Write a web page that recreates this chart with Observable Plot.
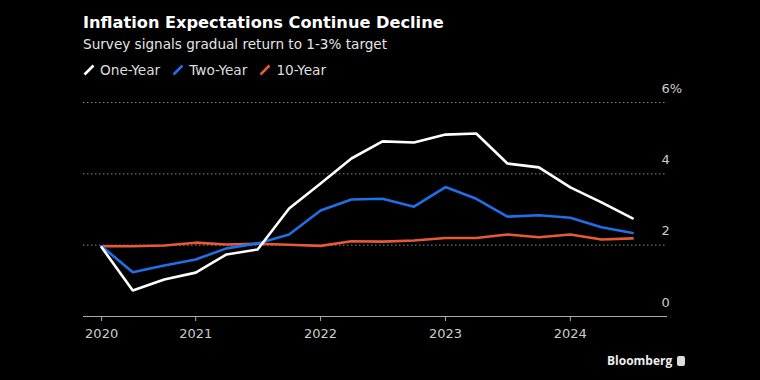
<!DOCTYPE html>
<html><head><meta charset="utf-8">
<script src="https://cdn.jsdelivr.net/npm/d3@7"></script>
<script src="https://cdn.jsdelivr.net/npm/@observablehq/plot@0.6"></script>
<style>
body{margin:0;background:#000;width:760px;height:380px;overflow:hidden;font-family:"DejaVu Sans",sans-serif;color:#fff;position:relative}
#title{position:absolute;left:83px;top:13px;font-weight:bold;font-size:16.2px;white-space:nowrap}
#subtitle{position:absolute;left:83px;top:36px;font-size:13.6px;color:#e6e6e6;white-space:nowrap}
#legend{position:absolute;left:83px;top:62px;font-size:13.7px;color:#ddd;display:flex;gap:12px;white-space:nowrap}
#legend .item{display:flex;align-items:center;gap:5px}
#chart{position:absolute;left:0;top:80px}
#footer{position:absolute;left:607px;top:352px;font-size:12px;font-weight:bold;color:#eee;display:flex;align-items:center;gap:5px;font-family:"Open Sans",sans-serif}
#footer .icon{width:8px;height:10px;background:#ddd;border-radius:2px}
</style></head>
<body>
<div id="title">Inflation Expectations Continue Decline</div>
<div id="subtitle">Survey signals gradual return to 1-3% target</div>
<div id="legend"></div>
<div id="chart"></div>
<div id="footer"><span>Bloomberg</span><span class="icon"></span></div>
<script>
const dates = ["2020-04-01","2020-07-01","2020-10-01","2021-01-01","2021-04-01","2021-07-01","2021-10-01","2022-01-01","2022-04-01","2022-07-01","2022-10-01","2023-01-01","2023-04-01","2023-07-01","2023-10-01","2024-01-01","2024-04-01","2024-07-01"];
const oneYear = [1.94,0.73,1.04,1.23,1.74,1.88,3.03,3.73,4.43,4.91,4.88,5.10,5.13,4.29,4.18,3.62,3.20,2.75];
const twoYear = [1.97,1.24,1.43,1.60,1.91,2.05,2.30,2.97,3.28,3.30,3.08,3.63,3.30,2.80,2.84,2.77,2.50,2.34];
const tenYear = [1.97,1.97,1.99,2.07,2.02,2.04,2.01,1.98,2.11,2.10,2.13,2.20,2.20,2.30,2.22,2.30,2.16,2.19];
const seriesNames = ["One-Year","Two-Year","10-Year"];
const seriesColors = ["#ffffff","#1f6fe6","#e85a35"];
const xTickDates = ["2020-04-01","2021-01-01","2022-01-01","2023-01-01","2024-01-01"];
const xTickLabels = ["2020","2021","2022","2023","2024"];
const yTicks = [0,2,4,6];
const yTickLabels = ["0","2","4","6%"];
const xDomain = ["2020-02-08","2024-10-11"];

const values = [oneYear, twoYear, tenYear];
const data = [];
// draw 10-Year first, One-Year on top
[2,1,0].forEach(s => dates.forEach((d,i) => data.push({date:new Date(d), value:values[s][i], series:seriesNames[s]})));

const xLabelMap = new Map(xTickDates.map((d,i)=>[+new Date(d), xTickLabels[i]]));
const yLabelMap = new Map(yTicks.map((d,i)=>[d, yTickLabels[i]]));

const legend = document.getElementById("legend");
seriesNames.forEach((n,i)=>{
  const it = document.createElement("div"); it.className="item";
  it.innerHTML = `<svg width="12" height="12"><line x1="1.5" y1="10.5" x2="10.5" y2="1.5" stroke="${seriesColors[i]}" stroke-width="2.6" stroke-linecap="butt"/></svg><span>${n}</span>`;
  legend.appendChild(it);
});

const chart = Plot.plot({
  width:760, height:270,
  marginTop:22, marginBottom:34, marginLeft:83, marginRight:93,
  style:{background:"transparent", color:"#ccc", fontFamily:"DejaVu Sans, sans-serif", fontSize:"13px"},
  x:{type:"utc", domain:xDomain.map(d=>new Date(d))},
  y:{domain:[0,6]},
  color:{domain:seriesNames, range:seriesColors},
  marks:[
    Plot.gridY(yTicks.filter(d=>d>0), {stroke:"#999", strokeOpacity:0.9, strokeDasharray:"1.5,2.5", strokeWidth:1}),
    Plot.ruleY([0], {stroke:"#aaa", strokeWidth:1.2}),
    Plot.axisX(xTickDates.map(d=>new Date(d)), {tickSize:5, tickPadding:7, stroke:"#aaa", fill:"#ccc", tickFormat:d=>xLabelMap.get(+d), label:null}),
    Plot.axisY(yTicks, {anchor:"right", tickSize:0, tickPadding:0, textAnchor:"start", dx:-6, dy:-14, fill:"#ccc", tickFormat:d=>yLabelMap.get(d), label:null}),
    Plot.line(data, {x:"date", y:"value", z:"series", stroke:"series", strokeWidth:2.6, strokeLinejoin:"miter"})
  ]
});
document.getElementById("chart").appendChild(chart);
</script>
</body></html>
